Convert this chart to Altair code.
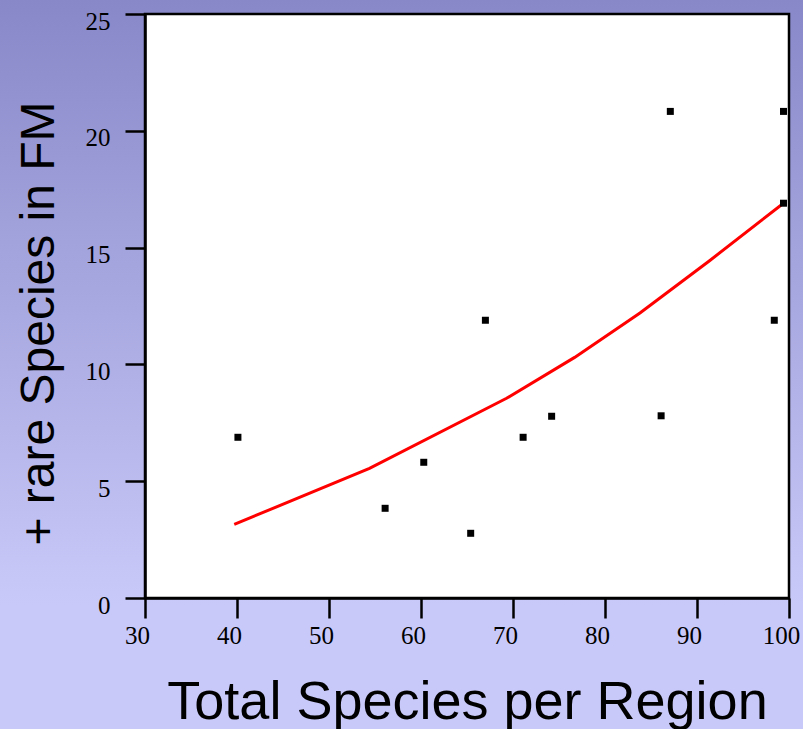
import altair as alt
import pandas as pd

# scatter points
px = [40.1, 56.1, 60.3, 65.4, 67.0, 71.1, 74.2, 86.1, 87.1, 98.4, 99.4, 99.4]
py = [6.88, 3.84, 5.81, 2.77, 11.89, 6.88, 7.78, 7.8, 20.83, 11.89, 16.9, 20.83]

# fitted curve
lx = [39.7, 54.4, 69.3, 76.7, 83.8, 91.4, 99.4]
ly = [3.15, 5.55, 8.55, 10.3, 12.2, 14.45, 16.9]

x_ticks = [30, 40, 50, 60, 70, 80, 90, 100]
y_ticks = [0, 5, 10, 15, 20, 25]

W, H = 644, 584
PAD = {"left": 145, "top": 14, "right": 14, "bottom": 131}

pts = pd.DataFrame({"x": px, "y": py})
line = pd.DataFrame({"x": lx, "y": ly})
one = pd.DataFrame({"a": [0]})

grad = alt.LinearGradient(
    gradient="linear",
    stops=[
        alt.GradientStop(color="#8888c9", offset=0),
        alt.GradientStop(color="#c9c9f9", offset=0.83),
        alt.GradientStop(color="#c9c9f9", offset=1),
    ],
    x1=0, x2=0, y1=0, y2=1,
)

bg = alt.Chart(one).mark_rect(color=grad).encode(
    x=alt.value(-PAD["left"]), x2=alt.value(W + PAD["right"]),
    y=alt.value(-PAD["top"]), y2=alt.value(H + PAD["bottom"]),
)

plotbg = alt.Chart(one).mark_rect(fill="white", stroke="black", strokeWidth=2.5).encode(
    x=alt.value(0), x2=alt.value(W), y=alt.value(0), y2=alt.value(H),
)

xscale = alt.Scale(domain=[30, 100], nice=False, zero=False)
yscale = alt.Scale(domain=[0, 25], nice=False)

xaxis = alt.Axis(
    values=x_ticks, title="Total Species per Region", grid=False,
    domainColor="black", domainWidth=2.5, tickColor="black", tickWidth=2.5, tickSize=20,
    labelFont="Liberation Serif", labelFontSize=25, labelColor="black",
    labelPadding=5, labelOffset=-8, labelFlush=False,
    titleFont="Liberation Sans", titleFontSize=54, titleFontWeight="normal", titleColor="black",
    titleBaseline="alphabetic", titleY=120, zindex=1,
)
yaxis = alt.Axis(
    values=y_ticks, title="+ rare Species in FM", grid=False,
    domainColor="black", domainWidth=2.5, tickColor="black", tickWidth=2.5, tickSize=20,
    labelFont="Liberation Serif", labelFontSize=25, labelColor="black",
    labelPadding=15, labelOffset=7, labelFlush=False,
    titleFont="Liberation Sans", titleFontSize=48, titleFontWeight="normal", titleColor="black",
    titleBaseline="alphabetic", titleX=-92, titleY=309, zindex=1,
)

points = alt.Chart(pts).mark_square(size=49, color="black", opacity=1).encode(
    x=alt.X("x:Q", scale=xscale, axis=xaxis),
    y=alt.Y("y:Q", scale=yscale, axis=yaxis),
)

curve = alt.Chart(line).mark_line(color="#ff0000", strokeWidth=3).encode(
    x=alt.X("x:Q", scale=xscale),
    y=alt.Y("y:Q", scale=yscale),
)

chart = alt.layer(bg, plotbg, curve, points).properties(
    width=W, height=H,
    autosize=alt.AutoSizeParams(type="none"),
    padding=PAD,
).configure_view(stroke=None)

chart.save("out.html", embed_options={"renderer": "svg", "actions": False})
